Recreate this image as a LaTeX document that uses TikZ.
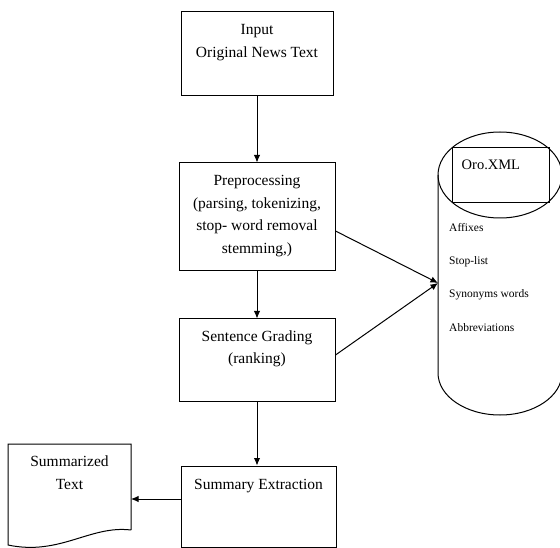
\documentclass[tikz,border=0pt]{standalone}
\usepackage{fontspec}
\setmainfont{Liberation Serif}
\usetikzlibrary{arrows.meta,positioning}
\tikzset{
    stage/.style={draw, line width=1pt, minimum width=156pt},
    caption/.style={inner sep=0pt, align=center, font=\fontsize{15.5}{22.5}\selectfont},
    flow/.style={-{Latex[length=7.5pt, width=6.5pt]}, line width=1pt},
    entry/.style={inner sep=0pt, align=left, font=\fontsize{11.5}{33.3}\selectfont}
}

\begin{document}
\begin{tikzpicture}[x=1pt, y=-1pt]
    \useasboundingbox (0,0) rectangle (560,548);

    % main chain
    \node[stage, minimum width=152pt, minimum height=84pt] (input) at (257,54) {};
    \node[caption, below=13pt of input.north] (input-t) {Input\\Original News Text};
    \node[stage, minimum height=108pt, below=66pt of input] (prep) {};
    \node[caption, below=13pt of prep.north] (prep-t) {Preprocessing\\(parsing, tokenizing,\\stop- word removal\\stemming,)};
    \node[stage, minimum height=82pt, below=47pt of prep] (grade) {};
    \node[caption, below=12pt of grade.north] (grade-t) {Sentence Grading\\(ranking)};
    \node[stage, minimum width=155pt, minimum height=81pt, below=64pt of grade, xshift=1.5pt] (extract) {};
    \node[caption, below=14pt of extract.north] (extract-t) {Summary Extraction};

    % database cylinder
    \draw[line width=1pt] (500,175) ellipse [x radius=62pt, y radius=43pt];
    \draw[line width=1pt] (438,175) -- (438,373) arc [start angle=180, end angle=360, x radius=62pt, y radius=42pt] -- (562,175);
    \node[draw, line width=1pt, inner sep=0pt, minimum width=97pt, minimum height=55pt] (oro) at (500.5,175.5) {};
    \node[inner sep=0pt, font=\fontsize{14.5}{17}\selectfont, below right=12pt and 10pt of oro.north west] (oro-t) {Oro.XML};
    \node[entry, anchor=north west] (items) at (449,223) {Affixes\\Stop-list\\Synonyms words\\Abbreviations};
    \coordinate (db-in) at (438,283);

    % output document
    \draw[line width=1pt] (131,530) -- (131,444) -- (8,444) -- (8,545) .. controls (60,556) and (90,525) .. (131,530);
    \coordinate (doc-top) at (69.5,444);
    \coordinate (doc-in) at (131,499);
    \node[caption, below=12pt of doc-top] (doc-t) {Summarized\\Text};

    \draw[flow] (input) -- (prep);
    \draw[flow] (prep) -- (grade);
    \draw[flow] (grade) -- (extract.north -| grade.south);
    \draw[flow] ([yshift=-14pt]prep.east) -- (db-in);
    \draw[flow] ([yshift=5pt]grade.east) -- (db-in);
    \draw[flow] (extract.west |- doc-in) -- (doc-in);
\end{tikzpicture}
\end{document}
